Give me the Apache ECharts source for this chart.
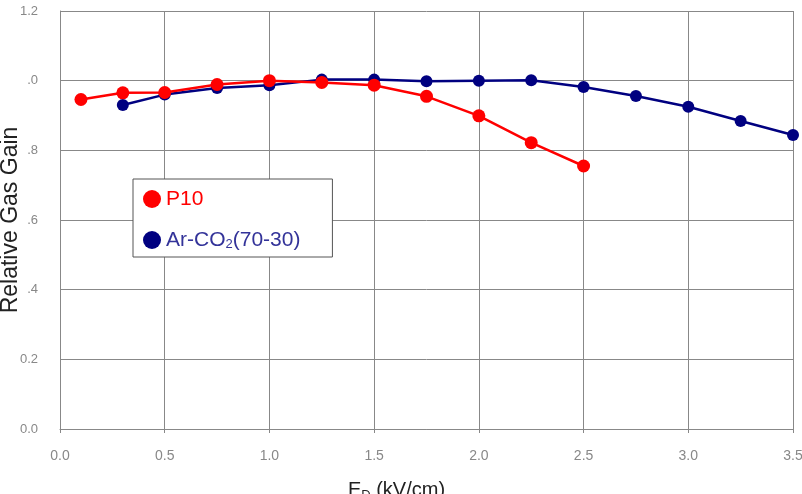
<!DOCTYPE html>
<html>
<head>
<meta charset="utf-8">
<title>Relative Gas Gain</title>
<script src="https://cdn.jsdelivr.net/npm/echarts@6/dist/echarts.min.js"></script>
<style>
  html, body { margin: 0; padding: 0; background: #fff; }
  #chart { width: 802px; height: 494px; }
</style>
</head>
<body>
<div id="chart"></div>
<script>
    // P10
    var p10X = [0.1, 0.3, 0.5, 0.75, 1.0, 1.25, 1.5, 1.75, 2.0, 2.25, 2.5];
    var p10Y = [0.946, 0.965, 0.966, 0.989, 1.0, 0.995, 0.987, 0.955, 0.899, 0.822, 0.755];
    // Ar-CO2 (70-30)
    var arX = [0.3, 0.5, 0.75, 1.0, 1.25, 1.5, 1.75, 2.0, 2.25, 2.5, 2.75, 3.0, 3.25, 3.5];
    var arY = [0.930, 0.960, 0.979, 0.987, 1.003, 1.003, 0.998, 1.0, 1.001, 0.982, 0.956, 0.925, 0.884, 0.844];
    // tick labels as they show on the picture
    var yTickLabels = ['0.0', '0.2', '.4', '.6', '.8', '.0', '1.2'];
    var xTickLabels = ['0.0', '0.5', '1.0', '1.5', '2.0', '2.5', '3.0', '3.5'];

    function pairs(xs, ys) {
        var out = [];
        for (var i = 0; i < xs.length; i++) out.push([xs[i], ys[i]]);
        return out;
    }

    var chart = echarts.init(document.getElementById('chart'));
    var option = {
        animation: false,
        backgroundColor: '#fff',
        textStyle: { fontFamily: 'Liberation Sans, Arial, sans-serif' },
        grid: { left: 60, right: 9, top: 11, bottom: 65, outerBoundsMode: 'none', containLabel: false },
        legend: {
            orient: 'vertical',
            left: 133,
            top: 179,
            padding: [9, 32, 6, 10],
            itemGap: 19,
            itemWidth: 18,
            itemHeight: 18,
            backgroundColor: '#fff',
            borderColor: '#555',
            borderWidth: 1,
            borderRadius: 0,
            data: [
                { name: 'P10', icon: 'circle', textStyle: { color: '#ff0000' } },
                { name: 'Ar-CO2(70-30)', icon: 'circle', textStyle: { color: '#333399' } }
            ],
            formatter: function (name) {
                if (name === 'Ar-CO2(70-30)') return 'Ar-CO{sub|2}(70-30)';
                return name;
            },
            textStyle: {
                fontSize: 21,
                lineHeight: 22,
                rich: {
                    sub: { fontSize: 13, verticalAlign: 'bottom', padding: [10, 0, 0, 0], color: '#333399' }
                }
            }
        },
        xAxis: {
            type: 'value',
            min: 0,
            max: 3.5,
            interval: 0.5,
            name: 'E{sub|D} (kV/cm)',
            nameLocation: 'middle',
            nameGap: 50,
            nameMoveOverlap: false,
            nameTextStyle: {
                fontSize: 20,
                color: '#222',
                padding: [0, 60, 0, 0],
                rich: { sub: { fontSize: 13, padding: [10, 0, 0, 0], color: '#222' } }
            },
            axisLine: { lineStyle: { color: '#888', width: 1 } },
            axisTick: { show: true, length: 4, lineStyle: { color: '#888' } },
            axisLabel: {
                margin: 20,
                fontSize: 14,
                color: '#888',
                formatter: function (v) { return xTickLabels[Math.round(v / 0.5)]; }
            },
            splitLine: { show: true, lineStyle: { color: '#888', width: 1 } }
        },
        yAxis: {
            type: 'value',
            min: 0,
            max: 1.2,
            interval: 0.2,
            name: 'Relative Gas Gain',
            nameLocation: 'middle',
            nameGap: 38,
            nameMoveOverlap: false,
            nameTextStyle: { fontSize: 23, color: '#222' },
            axisLine: { show: true, lineStyle: { color: '#888', width: 1 } },
            axisTick: { show: false },
            axisLabel: {
                margin: 22,
                fontSize: 13,
                color: '#888',
                formatter: function (v) { return yTickLabels[Math.round(v / 0.2)]; }
            },
            splitLine: { show: true, lineStyle: { color: '#888', width: 1 } }
        },
        series: [
            {
                name: 'Ar-CO2(70-30)',
                type: 'line',
                data: pairs(arX, arY),
                symbol: 'circle',
                symbolSize: 12,
                itemStyle: { color: '#000080' },
                lineStyle: { color: '#000080', width: 2.5 }
            },
            {
                name: 'P10',
                type: 'line',
                data: pairs(p10X, p10Y),
                symbol: 'circle',
                symbolSize: 13,
                itemStyle: { color: '#ff0000' },
                lineStyle: { color: '#ff0000', width: 2.5 }
            }
        ]
    };
    chart.setOption(option);
</script>
</body>
</html>
